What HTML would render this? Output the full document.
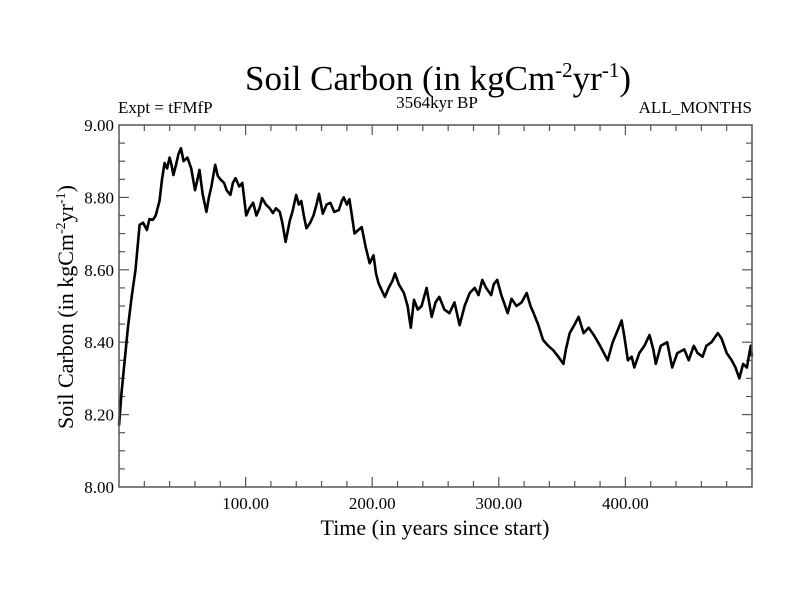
<!DOCTYPE html>
<html><head><meta charset="utf-8"><style>
body{margin:0;background:#fff;}
svg{display:block;font-family:"Liberation Serif",serif;}
</style></head><body>
<svg id="chart" width="800" height="600" viewBox="0 0 800 600">
<text x="438" y="90" font-size="35" text-anchor="middle">Soil Carbon (in kgCm<tspan font-size="21" dy="-13">-2</tspan><tspan dy="13">yr</tspan><tspan font-size="21" dy="-13">-1</tspan><tspan dy="13">)</tspan></text>
<text x="118" y="113" font-size="17">Expt = tFMfP</text>
<text x="437" y="108" font-size="17" text-anchor="middle">3564kyr BP</text>
<text x="752" y="113" font-size="17" text-anchor="end">ALL_MONTHS</text>
<text x="435" y="535" font-size="22" text-anchor="middle">Time (in years since start)</text>
<text transform="translate(73,307) rotate(-90)" font-size="22" text-anchor="middle">Soil Carbon (in kgCm<tspan font-size="14" dy="-8">-2</tspan><tspan dy="8">yr</tspan><tspan font-size="14" dy="-8">-1</tspan><tspan dy="8">)</tspan></text>
<g id="ticks"></g>
<path id="series" fill="none" stroke="#000" stroke-width="2.6" stroke-linejoin="round"></path>
<rect x="119" y="125" width="633" height="362" fill="none" stroke="#555" stroke-width="1.5"></rect>
</svg>
<script>
const years=[0,2,4.5,7,10,13,16.3,19,22,24,26.8,29,32,34,36,38,40,41.5,43,45,47,49,51,54,57,60,62,63.6,66,69,71,73,76,78,80,83,85,88,90,92,95,97.4,100.5,103,106,108.5,111,113,116,119,121.6,124,127,129,131.6,135,137,140,142,144,146,148,151,153.6,156,158,161,164,167,170,173.6,176,177.5,180,182,184,186,189,191.7,195,198,201,203,205,208,210,213,216,218,221,225,228,230.5,233,236,239,243,247,250,253,257,261,265,269,273,277,281,284,287,290,294,296,298.7,302,307,310,314,318,322,325,327.5,331,335,339,343,347,351,353,356,360,363,367,371,375,380,386,390,393,397,399,402,405,407,411,415,419,422,424,428,433,437,441,446.5,450,454,457,461,464,468,473,476,480,484,487,490,493,496,499,500];
const values=[8.17,8.26,8.35,8.44,8.526,8.60,8.724,8.73,8.71,8.74,8.738,8.75,8.79,8.85,8.895,8.88,8.91,8.89,8.862,8.89,8.92,8.936,8.90,8.91,8.88,8.82,8.85,8.876,8.81,8.76,8.80,8.83,8.89,8.86,8.85,8.84,8.82,8.807,8.84,8.853,8.83,8.84,8.75,8.77,8.785,8.75,8.77,8.798,8.78,8.77,8.757,8.77,8.76,8.73,8.677,8.737,8.76,8.807,8.78,8.79,8.75,8.715,8.73,8.75,8.78,8.81,8.755,8.78,8.785,8.76,8.765,8.79,8.80,8.78,8.795,8.75,8.70,8.71,8.718,8.66,8.618,8.64,8.59,8.563,8.54,8.525,8.55,8.57,8.59,8.56,8.536,8.50,8.44,8.517,8.49,8.50,8.55,8.47,8.51,8.525,8.49,8.48,8.51,8.447,8.50,8.536,8.55,8.53,8.572,8.55,8.53,8.56,8.572,8.53,8.48,8.52,8.50,8.51,8.536,8.50,8.48,8.45,8.406,8.39,8.378,8.36,8.34,8.38,8.425,8.45,8.47,8.425,8.44,8.42,8.39,8.35,8.40,8.425,8.46,8.42,8.35,8.36,8.33,8.37,8.39,8.42,8.38,8.34,8.39,8.40,8.33,8.37,8.38,8.35,8.39,8.37,8.36,8.39,8.40,8.425,8.41,8.37,8.35,8.33,8.30,8.34,8.33,8.39,8.36];
const xTickLabels=["100.00","200.00","300.00","400.00"];
const yTickLabels=["8.00","8.20","8.40","8.60","8.80","9.00"];
const X0=119,X1=752,Y0=487,Y1=125;
function xs(v){return X0+(v-0)/500*(X1-X0);}
function ys(v){return Y0-(v-8)/1*(Y0-Y1);}
const NS="http://www.w3.org/2000/svg";
const g=document.getElementById('ticks');
function line(x1,y1,x2,y2,name){const l=document.createElementNS(NS,'line');l.setAttribute('x1',x1);l.setAttribute('y1',y1);l.setAttribute('x2',x2);l.setAttribute('y2',y2);l.setAttribute('stroke','#555');l.setAttribute('stroke-width','1.2');


g.appendChild(l);}
for(let t=20;t<500;t+=20){const major=t%100===0;const L=major?10:6;const x=xs(t);line(x,Y0,x,Y0-L,'x-tick');line(x,Y1,x,Y1+L,'x-tick');}
for(let k=1;k<20;k++){const v=8+k*0.05;const major=(k%4===0);const L=major?10:6;const y=ys(v);line(X0,y,X0+L,y,'y-tick');line(X1,y,X1-L,y,'y-tick');}
xTickLabels.forEach(s=>{const t=document.createElementNS(NS,'text');t.setAttribute('x',xs(parseFloat(s)));t.setAttribute('y',Y0+22);t.setAttribute('font-size','17');t.setAttribute('text-anchor','middle');t.textContent=s;


g.appendChild(t);});
yTickLabels.forEach(s=>{const t=document.createElementNS(NS,'text');t.setAttribute('x',X0-5);t.setAttribute('y',ys(parseFloat(s))+6);t.setAttribute('font-size','17');t.setAttribute('text-anchor','end');t.textContent=s;


g.appendChild(t);});
let d='';years.forEach((yr,i)=>{d+=(i?'L':'M')+xs(yr).toFixed(1)+','+ys(values[i]).toFixed(1);});
document.getElementById('series').setAttribute('d',d);
</script>
</body></html>
